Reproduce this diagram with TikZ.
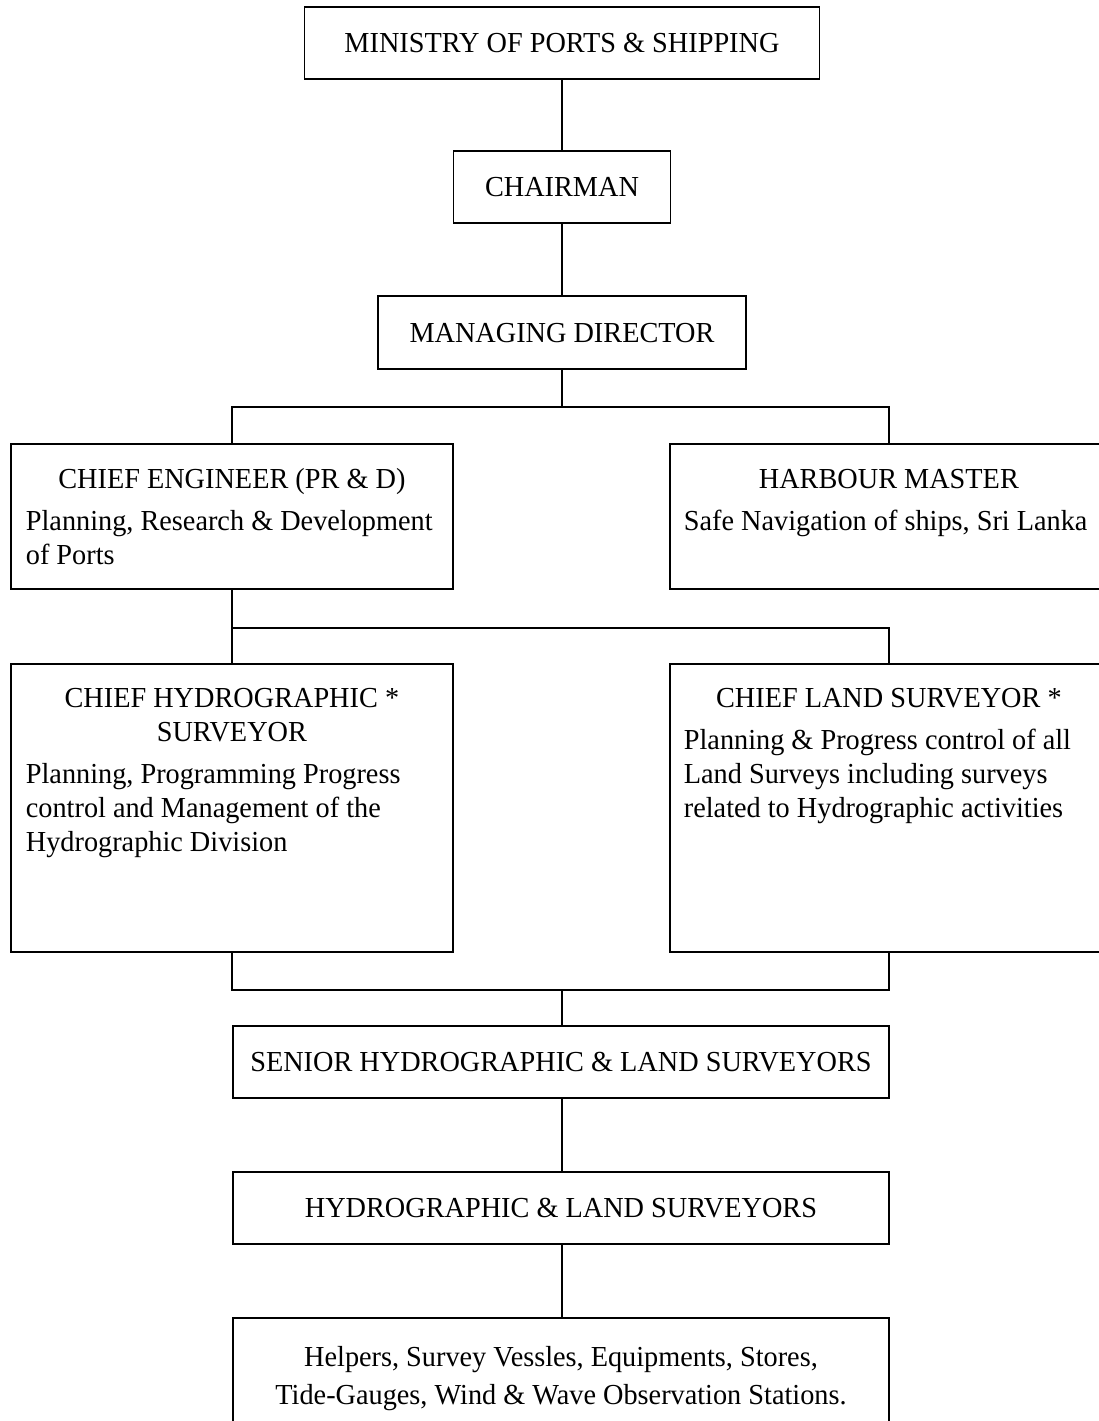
\documentclass[tikz,border=0pt]{standalone}
\usepackage{fontspec}
\setmainfont{Liberation Serif}[FakeStretch=0.975]

% boxes of the organisation chart
\tikzset{
  unit/.style={draw, rectangle, line width=1.8pt, inner sep=0pt,
    text height=19.5pt, text depth=0pt, font=\fontsize{29}{34}\selectfont},
  panel/.style={draw, rectangle, line width=1.8pt, inner xsep=15pt, inner ysep=0pt,
    anchor=north west, font=\fontsize{29}{34}\selectfont},
  link/.style={line width=1.8pt},
}
% fixed-size text block: width, height, content (top aligned)
\newcommand\paneltext[3]{\begin{minipage}[c][#2][t]{#1}#3\end{minipage}}

\begin{document}
\begin{tikzpicture}[x=1pt, y=-1pt]
  \useasboundingbox (0,0) rectangle (1099,1421);
  \fill[white] (0,0) rectangle (1099,1421);
  \clip (0,0) rectangle (1099,1421);

  % top of the chain of command
  \node[unit, minimum width=515pt, minimum height=72pt] (ministry) at (562,43)
    {MINISTRY OF PORTS \& SHIPPING};
  \node[unit, minimum width=217pt, minimum height=72pt] (chairman) at (562,187)
    {CHAIRMAN};
  \node[unit, minimum width=368pt, minimum height=73pt] (md) at (562,332.5)
    {MANAGING DIRECTOR};

  % heads of department
  \node[panel] (ce) at (10,443)
    {\paneltext{412pt}{145pt}{\centering\rule{0pt}{45pt}CHIEF ENGINEER (PR \& D)\par
      \vspace{8pt}\raggedright
      \mbox{Planning, Research \& Development}\\
      \mbox{of Ports}\par}};
  \node[panel, inner xsep=14pt] (hm) at (669,443)
    {\paneltext{410pt}{145pt}{\centering\rule{0pt}{45pt}HARBOUR MASTER\par
      \vspace{8pt}\raggedright
      \mbox{Safe Navigation of ships, Sri Lanka}\par}};

  % survey chiefs
  \node[panel] (chs) at (10,663)
    {\paneltext{412pt}{288pt}{\centering\rule{0pt}{44pt}CHIEF HYDROGRAPHIC *\\
      SURVEYOR\par
      \vspace{8pt}\raggedright
      \mbox{Planning, Programming Progress}\\
      \mbox{control and Management of the}\\
      \mbox{Hydrographic Division}\par}};
  \node[panel, inner xsep=14pt] (cls) at (669,663)
    {\paneltext{410pt}{288pt}{\centering\rule{0pt}{44pt}CHIEF LAND SURVEYOR *\par
      \vspace{8pt}\raggedright
      \mbox{Planning \& Progress control of all}\\
      \mbox{Land Surveys including surveys}\\
      \mbox{related to Hydrographic activities}\par}};

  % survey staff and resources
  \node[unit, minimum width=656pt, minimum height=72pt] (senior) at (561,1062)
    {SENIOR HYDROGRAPHIC \& LAND SURVEYORS};
  \node[unit, minimum width=656pt, minimum height=72pt] (surveyors) at (561,1208)
    {HYDROGRAPHIC \& LAND SURVEYORS};
  \node[draw, rectangle, line width=1.8pt, inner sep=0pt, minimum width=656pt,
        minimum height=122pt, align=center, font=\fontsize{29}{38}\selectfont]
        (helpers) at (561,1379)
    {Helpers, Survey Vessles, Equipments, Stores,\\
     Tide-Gauges, Wind \& Wave Observation Stations.};

  % levels of the horizontal bus lines and the trunk below the chiefs
  \coordinate (busA) at (0,407);
  \coordinate (busB) at (0,628);
  \coordinate (busC) at (0,990);
  \coordinate (trunk) at (562,0);

  % connectors
  \draw[link] (ministry.south) -- (chairman.north);
  \draw[link] (chairman.south) -- (md.north);
  \draw[link] (md.south) -- (md.south |- busA);
  \draw[link] (ce.north -| chs.north) -- (chs.north |- busA) -- (cls.north |- busA)
    -- (cls.north |- hm.north);
  \draw[link] (chs.north |- ce.south) -- (chs.north);
  \draw[link] (chs.north |- busB) -- (cls.north |- busB) -- (cls.north);
  \draw[link] (chs.south) -- (chs.south |- busC) -- (cls.south |- busC) -- (cls.south);
  \draw[link] (trunk |- busC) -- (trunk |- senior.north);
  \draw[link] (trunk |- senior.south) -- (trunk |- surveyors.north);
  \draw[link] (trunk |- surveyors.south) -- (trunk |- helpers.north);
\end{tikzpicture}
\end{document}
